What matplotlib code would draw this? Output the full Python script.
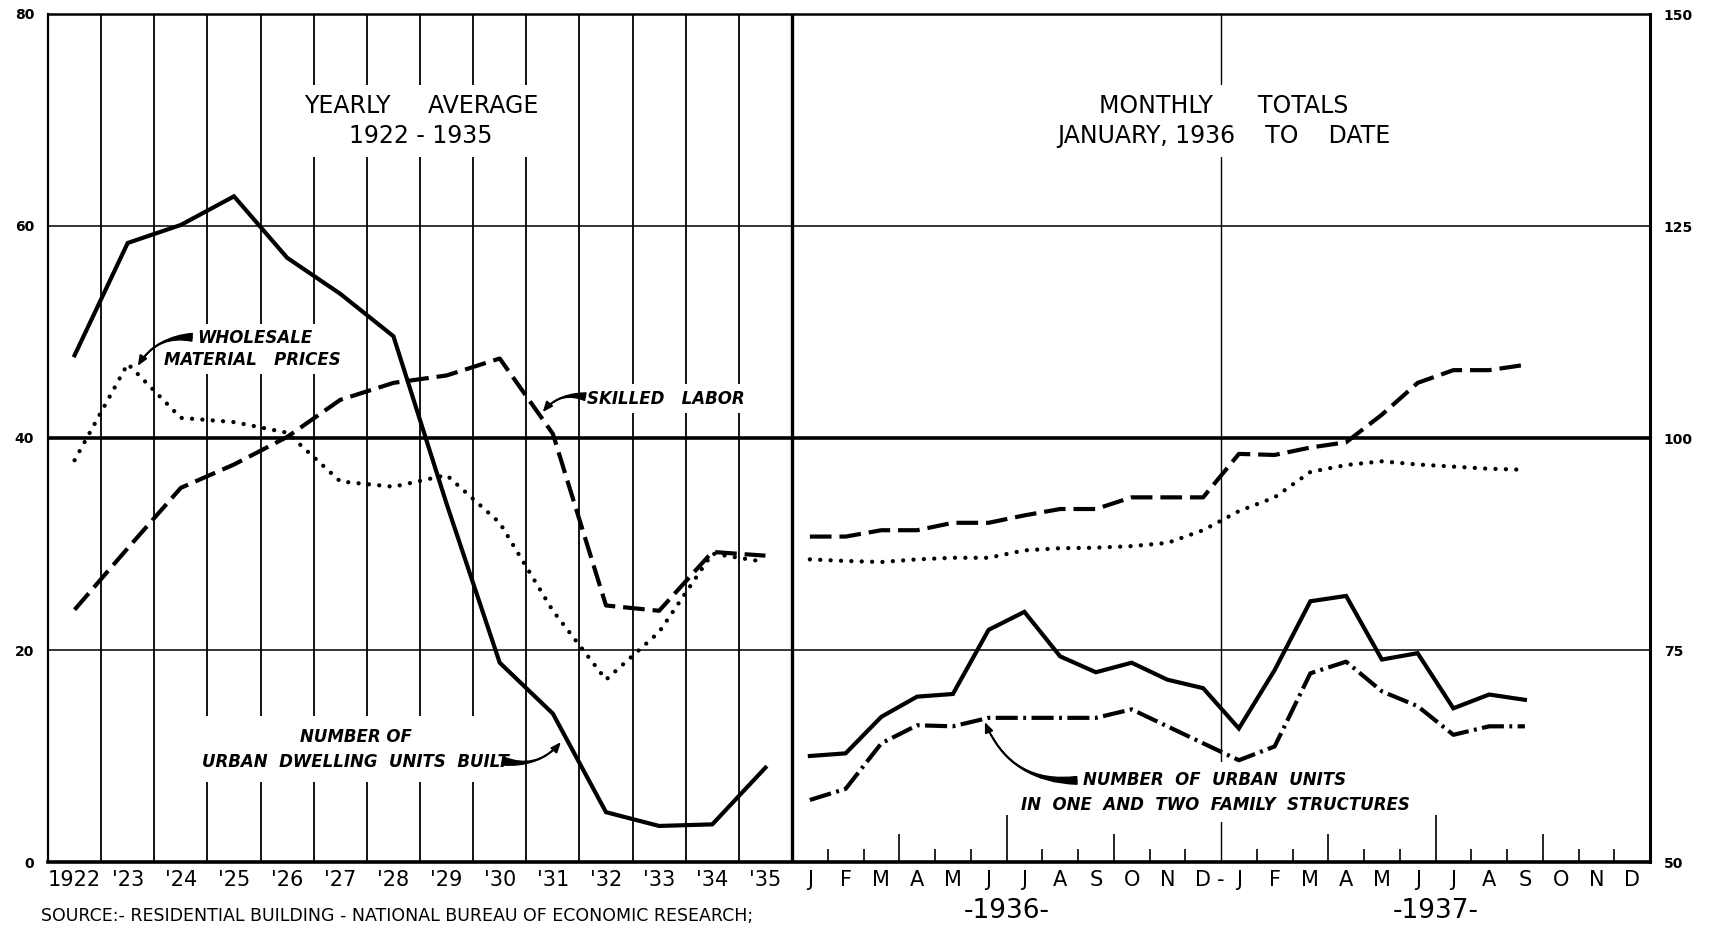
import matplotlib
matplotlib.use("Agg")
import matplotlib.pyplot as plt
import numpy as np

# ---------------- data ----------------
years = ["1922", "'23", "'24", "'25", "'26", "'27", "'28", "'29", "'30",
         "'31", "'32", "'33", "'34", "'35"]
months = ["J", "F", "M", "A", "M", "J", "J", "A", "S", "O", "N", "D"] * 2

dwelling_yearly = [47.8, 58.4, 60.1, 62.8, 57.0, 53.6, 49.6, 33.8, 18.8, 14.0, 4.7, 3.4, 3.55, 8.9]
labor_yearly = [23.8, 29.6, 35.3, 37.5, 40.1, 43.6, 45.2, 45.9, 47.5, 40.4, 24.2, 23.7, 29.25, 28.9]
prices_yearly = [37.9, 47.0, 41.9, 41.5, 40.5, 35.9, 35.4, 36.5, 32.0, 23.7, 17.2, 21.7, 29.1, 28.3]

urban_monthly = [10.0, 10.25, 13.7, 15.6, 15.85, 21.9, 23.6, 19.4, 17.9, 18.8, 17.2, 16.4,
                 12.6, 18.1, 24.6, 25.1, 19.1, 19.7, 14.5, 15.8, 15.3]
family_monthly = [5.85, 6.9, 11.2, 12.9, 12.8, 13.6, 13.6, 13.6, 13.6, 14.4, 12.8, 11.2,
                  9.6, 10.9, 17.8, 18.9, 16.1, 14.7, 12.0, 12.8, 12.8]
labor_monthly = [30.7, 30.7, 31.3, 31.3, 32.0, 32.0, 32.7, 33.3, 33.3, 34.4, 34.4, 34.4,
                 38.5, 38.4, 39.1, 39.6, 42.2, 45.2, 46.4, 46.4, 46.9]
prices_monthly = [28.55, 28.4, 28.3, 28.55, 28.7, 28.7, 29.4, 29.6, 29.65, 29.8, 30.1, 31.3,
                  33.1, 34.4, 36.8, 37.45, 37.8, 37.5, 37.3, 37.1, 37.0]

left_ticks = [0, 20, 40, 60, 80]
right_labels = ["50", "75", "100", "125", "150"]

# ---------------- layout ----------------
N_YEARS = len(years)
MONTH_W = 858 / 744 * 14 / 24          # width of one month in "year" units
X_MAX = N_YEARS + 24 * MONTH_W

x_year = np.arange(N_YEARS) + 0.5
x_month_all = N_YEARS + (np.arange(24) + 0.5) * MONTH_W
x_month = x_month_all[:len(urban_monthly)]

plt.rcParams['font.family'] = ['DejaVu Sans']
fig = plt.figure(figsize=(17.1, 9.27), dpi=100)
ax = fig.add_axes([48 / 1710, 1 - 862 / 927, 1602 / 1710, 848 / 927])
ax.set_xlim(0, X_MAX)
ax.set_ylim(0, 80)

# grid / frame
for v, lw in [(20, 1.1), (40, 2.6), (60, 1.1)]:
    ax.axhline(v, color='black', lw=lw, zorder=1)
ax.vlines(np.arange(1, N_YEARS), 0, 80, color='black', lw=1.3, zorder=1)
ax.axvline(N_YEARS, color='black', lw=2.4, zorder=1)
ax.axvline(N_YEARS + 12 * MONTH_W, color='black', lw=1.0, zorder=1)
for k in range(1, 24):
    if k == 12:
        continue
    h = 4.4 if k % 6 == 0 else (2.6 if k % 3 == 0 else 1.25)
    ax.vlines(N_YEARS + k * MONTH_W, 0, h, color='black', lw=1.2, zorder=1)

for s, lw in [('left', 1.6), ('bottom', 2.6), ('top', 1.8), ('right', 2.2)]:
    ax.spines[s].set_linewidth(lw)

# ---------------- series ----------------
K = 'black'
ax.plot(x_year, dwelling_yearly, color=K, lw=3.0, solid_joinstyle='miter', zorder=4)
ax.plot(x_month, urban_monthly, color=K, lw=3.0, solid_joinstyle='miter', zorder=4)

for xs, ys in [(x_year, labor_yearly), (x_month, labor_monthly)]:
    ax.plot(xs, ys, color=K, lw=3.0, dashes=(5.2, 1.9), dash_capstyle='butt', zorder=4)
for xs, ys in [(x_year, prices_yearly), (x_month, prices_monthly)]:
    ax.plot(xs, ys, color=K, lw=3.1, dashes=(0.01, 2.4), dash_capstyle='round', zorder=4)
ax.plot(x_month, family_monthly, color=K, lw=3.0, dashes=(5.3, 1.3, 0.7, 1.3),
        dash_capstyle='butt', zorder=4)

# ---------------- ticks ----------------
ax.set_xticks(list(x_year) + list(x_month_all))
ax.set_xticklabels(years + months, fontsize=15)
ax.tick_params(axis='x', length=0, pad=6)
ax.set_yticks(left_ticks)
ax.set_yticklabels([str(v) for v in left_ticks], fontsize=10, fontweight='bold')
ax.tick_params(axis='y', length=0, pad=10)

sec = ax.secondary_yaxis('right', functions=(lambda v: 50 + 1.25 * v, lambda r: (r - 50) / 1.25))
sec.set_yticks([50 + 1.25 * v for v in left_ticks])
sec.set_yticklabels(right_labels, fontsize=10, fontweight='bold')
sec.tick_params(length=0, pad=10)
sec.spines['right'].set_visible(False)

bt = ax.get_xaxis_transform()
ax.text(N_YEARS + 12 * MONTH_W, -(870 - 862) / 848, "-", transform=bt, ha='center', va='top', fontsize=15)
ax.text(N_YEARS + 6 * MONTH_W, -(911 - 862) / 848, "-1936-", transform=bt, ha='center', va='center', fontsize=19)
ax.text(N_YEARS + 18 * MONTH_W, -(911 - 862) / 848, "-1937-", transform=bt, ha='center', va='center', fontsize=19)

fig.text(41 / 1710, 2 / 927, "SOURCE:- RESIDENTIAL BUILDING - NATIONAL BUREAU OF ECONOMIC RESEARCH;",
         ha='left', va='bottom', fontsize=12.5)

# ---------------- titles / annotations ----------------
wb = dict(facecolor='white', edgecolor='none', pad=6)
ax.text(7.02, 69.9, "YEARLY     AVERAGE\n1922 - 1935", ha='center', va='center',
        fontsize=17, linespacing=1.35, bbox=wb, zorder=2)
ax.text(22.13, 69.9, "MONTHLY      TOTALS\nJANUARY, 1936    TO    DATE", ha='center', va='center',
        fontsize=17, linespacing=1.35, bbox=wb, zorder=2)

it = dict(fontsize=12, fontweight='bold', style='italic', zorder=2)
ax.text(2.80, 49.4, "WHOLESALE", ha='left', va='center', bbox=dict(wb, pad=4), **it)
ax.text(2.18, 47.4, "MATERIAL   PRICES", ha='left', va='center', bbox=dict(wb, pad=4), **it)
ax.text(10.14, 43.7, "SKILLED   LABOR", ha='left', va='center', bbox=dict(wb, pad=4), **it)
ax.text(5.79, 10.65, "NUMBER OF\nURBAN  DWELLING  UNITS  BUILT", ha='center', va='center',
        linespacing=1.5, bbox=dict(wb, pad=8), **it)
ax.text(21.96, 6.6, "NUMBER  OF  URBAN  UNITS\nIN  ONE  AND  TWO  FAMILY  STRUCTURES",
        ha='center', va='center', linespacing=1.5, bbox=dict(wb, pad=6), **it)


def arrow(tail, head, rad):
    cs = f"arc3,rad={rad}"
    ax.annotate("", xy=head, xytext=tail, zorder=5,
                arrowprops=dict(arrowstyle="wedge,tail_width=0.55,shrink_factor=0.15",
                                connectionstyle=cs, color=K, shrinkA=0, shrinkB=4))
    ax.annotate("", xy=head, xytext=tail, zorder=5,
                arrowprops=dict(arrowstyle="-|>,head_length=0.6,head_width=0.25",
                                connectionstyle=cs, color=K, lw=1.3, shrinkA=0, shrinkB=0))


arrow((2.71, 49.5), (1.69, 46.8), 0.3)
arrow((10.11, 43.9), (9.31, 42.45), 0.3)
arrow((8.58, 9.5), (9.65, 11.3), 0.3)
arrow((19.36, 7.7), (17.63, 13.2), -0.35)

fig.savefig("out.png", dpi=100)
